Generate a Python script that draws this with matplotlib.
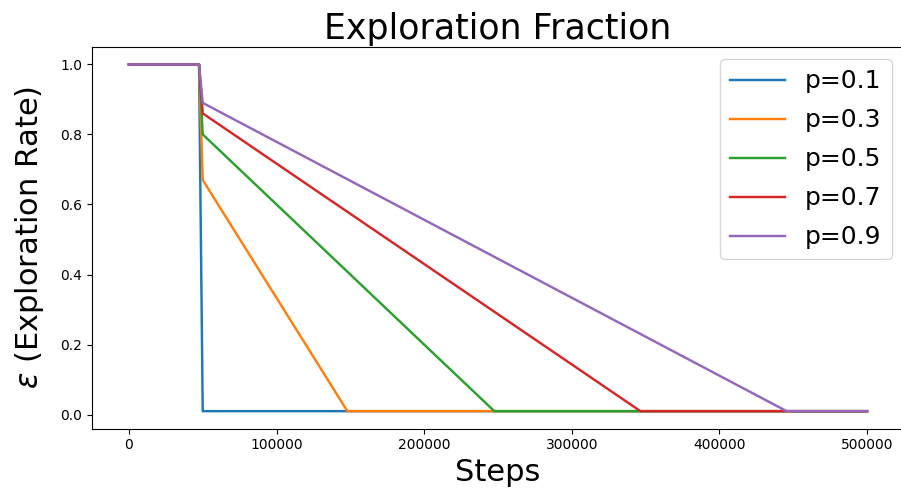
import matplotlib
matplotlib.use('Agg')
import matplotlib.pyplot as plt

# exploration fraction values and the breakpoints
fractions = [0.1, 0.3, 0.5, 0.7, 0.9]
labels = ['p=0.1', 'p=0.3', 'p=0.5', 'p=0.7', 'p=0.9']

learning_starts = 47500
first_step = 50000
total_steps = 500000
eps_final = 0.01

# epsilon right after learning starts, and step where it reaches final value
eps_at_start = [0.01, 0.67, 0.80, 0.86, 0.89]
end_steps = [50000, 148000, 247500, 346500, 445500]

fig = plt.figure(figsize=(9.01, 4.93), dpi=100)
ax = fig.add_axes([92 / 901, 1 - 428.5 / 493, 812 / 901, 381.5 / 493])

for lab, e0, xe in zip(labels, eps_at_start, end_steps):
    xs = [0, learning_starts, first_step, xe, total_steps]
    ys = [1.0, 1.0, e0, eps_final, eps_final]
    ax.plot(xs, ys, label=lab, linewidth=1.75)

ax.set_title('Exploration Fraction', fontsize=25)
ax.set_xlabel('Steps', fontsize=22)
ax.set_ylabel(r'$\epsilon$ (Exploration Rate)', fontsize=22, labelpad=10)
ax.legend(fontsize=18, loc='upper right', handlelength=2.2, labelspacing=0.6)

fig.savefig('out.png', dpi=100)
